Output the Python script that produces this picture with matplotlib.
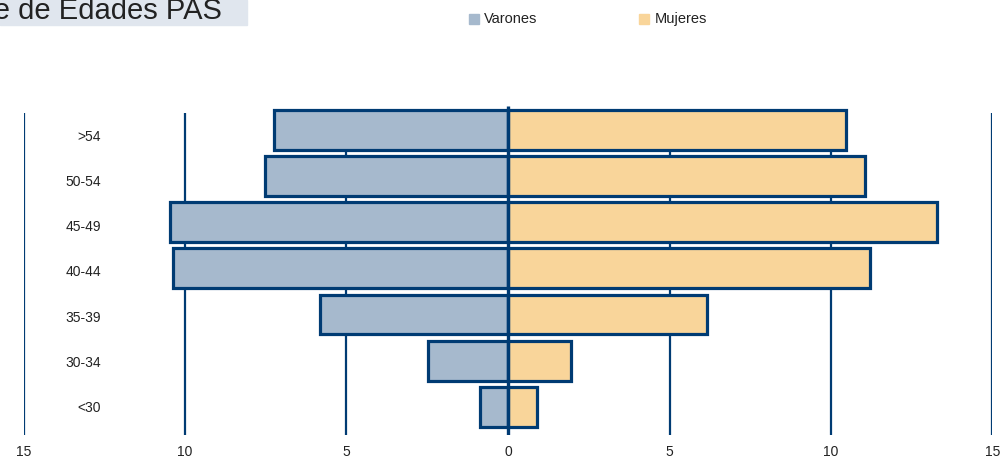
import matplotlib.pyplot as plt
from matplotlib.patches import Rectangle

plt.rcParams['font.family'] = ['Liberation Sans', 'DejaVu Sans']

# age groups from bottom to top
grupos = ["<30", "30-34", "35-39", "40-44", "45-49", "50-54", ">54"]
varones = [0.87, 2.48, 5.83, 10.37, 10.46, 7.52, 7.24]
mujeres = [0.9, 1.95, 6.16, 11.21, 13.28, 11.05, 10.46]
ticks = [-15, -10, -5, 0, 5, 10, 15]
tick_labels = ["15", "10", "5", "0", "5", "10", "15"]

azul = "#A6B9CD"
naranja = "#F9D59A"
borde = "#003B73"
narrow = ['Liberation Sans Narrow', 'Liberation Sans', 'DejaVu Sans']

fig = plt.figure(figsize=(10, 4.59), dpi=100)
ax = fig.add_axes([0.0235, 1 - 435 / 459, 0.969, 333 / 459])

y = list(range(len(grupos)))
neg = [-v for v in varones]

# gridlines behind bars
for t in ticks:
    if t != 0:
        ax.vlines(t, -0.606, 6.37, color=borde, lw=1.6, zorder=1)

ax.barh(y, neg, height=0.86, color=azul, edgecolor=borde, linewidth=2.3, zorder=2)
ax.barh(y, mujeres, height=0.86, color=naranja, edgecolor=borde, linewidth=2.3, zorder=2)
ax.vlines(0, -0.606, 6.52, color=borde, lw=2.4, zorder=3)

ax.set_xlim(-15, 15)
ax.set_ylim(-0.606, 6.6)
for s in ax.spines.values():
    s.set_visible(False)
ax.set_yticks([])
ax.set_xticks(ticks)
ax.set_xticklabels(tick_labels, fontsize=10, color="#222222")
ax.tick_params(axis='x', length=0, pad=7)

# the labels are spaced a little tighter than the bars in the original
for i, g in enumerate(grupos):
    ax.text(-12.6, i * 0.978 - 0.02, g, ha='right', va='center', fontsize=10, color="#222222")

# title box (cut at the top left)
fig.patches.append(Rectangle((0, 1 - 25 / 459), 247 / 1000, 25 / 459,
                             transform=fig.transFigure, color="#E0E6EE", zorder=0))
fig.text(222 / 1000, 1 - 19 / 459, "Pirámide de Edades PAS", ha='right', va='baseline',
         fontsize=21, color="#222222", family=narrow)

# legend
fig.patches.append(Rectangle((469 / 1000, 1 - 24 / 459), 10 / 1000, 10 / 459,
                             transform=fig.transFigure, color=azul))
fig.text(484 / 1000, 1 - 19 / 459, "Varones", va='center', fontsize=10.5,
         color="#222222", family=narrow)
fig.patches.append(Rectangle((639 / 1000, 1 - 24 / 459), 10 / 1000, 10 / 459,
                             transform=fig.transFigure, color=naranja))
fig.text(655 / 1000, 1 - 19 / 459, "Mujeres", va='center', fontsize=10.5,
         color="#222222", family=narrow)

fig.savefig("out.png", dpi=100)
